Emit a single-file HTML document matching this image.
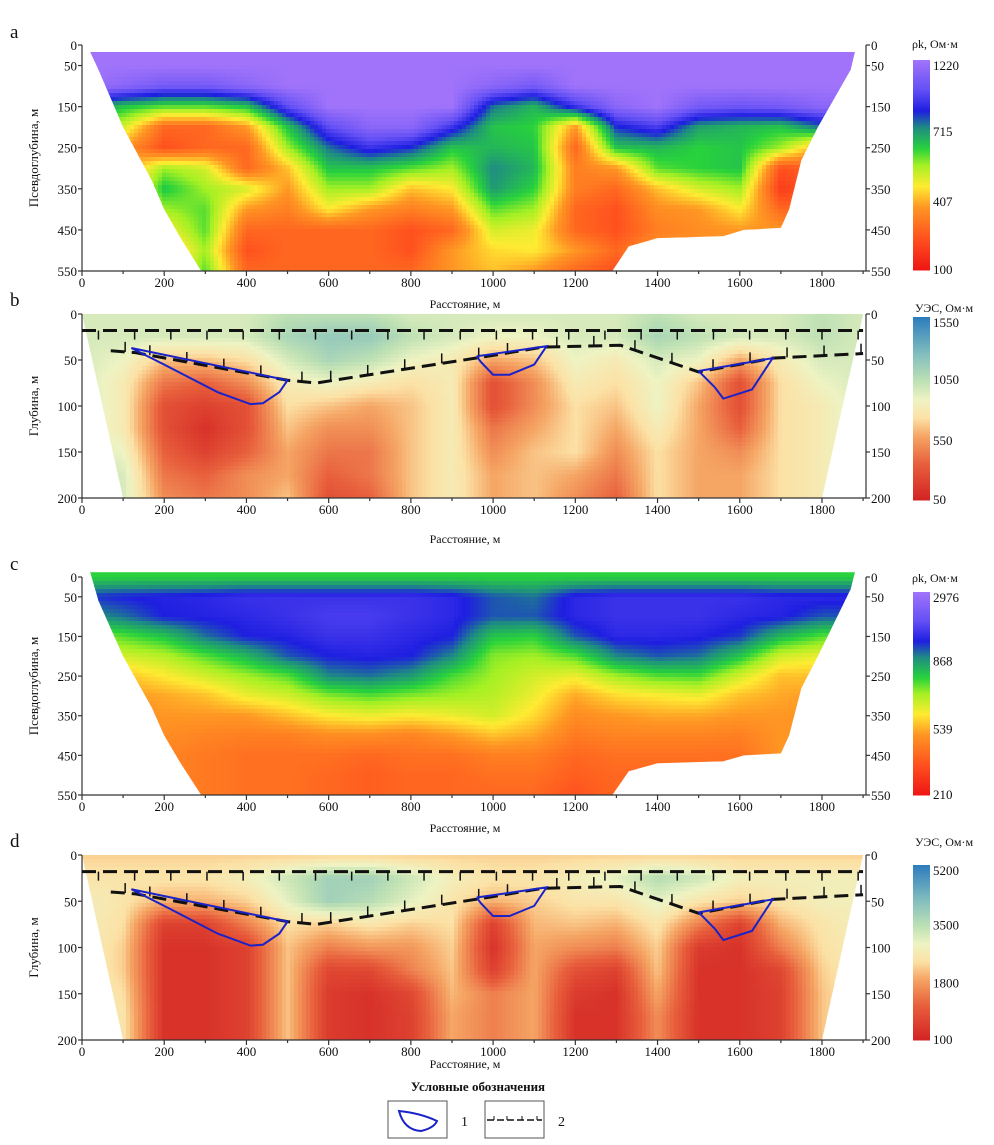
<!DOCTYPE html>
<html><head><meta charset="utf-8">
<style>
html,body{margin:0;padding:0;background:#fff;}
svg{display:block;font-family:"Liberation Serif",serif;}
</style></head>
<body>
<svg id="fig" width="994" height="1145" viewBox="0 0 994 1145" xmlns="http://www.w3.org/2000/svg"></svg>
<script>
// ---- data ----
const distCols = [0,100,200,300,400,500,600,700,800,900,1000,1100,1200,1300,1400,1500,1600,1700,1800,1900];
const depthRowsA = [50,100,150,200,250,300,350,400,450,500,550];
const depthRowsC = [0,50,100,150,200,250,300,350,400,450,500,550];
const depthRowsB = [0,25,50,75,100,125,150,175,200];
const gridA = [
[1,1,.7,.5,.3,.3,.3,.3,.3,.3,.3],[1,.95,.6,.45,.3,.3,.3,.3,.3,.3,.3],
[1,.9,.55,.2,.15,.5,.6,.5,.4,.3,.3],[1,.9,.55,.2,.2,.45,.5,.55,.55,.5,.55],
[1,.95,.6,.3,.2,.2,.45,.3,.2,.15,.2],[1,1,.85,.6,.5,.35,.3,.25,.2,.2,.2],
[1,1,1,.85,.7,.6,.5,.4,.2,.2,.2],[1,1,1,.95,.8,.6,.5,.3,.2,.2,.2],
[1,1,1,.95,.75,.55,.35,.25,.15,.15,.2],[1,1,1,.8,.6,.5,.4,.3,.2,.3,.3],
[1,.95,.7,.6,.62,.68,.66,.55,.45,.38,.35],[1,.9,.62,.58,.6,.62,.58,.5,.42,.4,.3],
[1,1,.8,.3,.2,.25,.25,.2,.2,.3,.2],[1,1,.95,.75,.6,.3,.2,.15,.15,.2,.15],
[1,1,1,.82,.62,.55,.35,.28,.25,.3,.3],[1,1,.9,.65,.58,.58,.45,.3,.28,.3,.3],
[1,1,.88,.62,.6,.6,.5,.4,.3,.3,.3],[1,1,.9,.6,.5,.15,.1,.2,.3,.3,.3],
[1,1,.95,.7,.3,.2,.2,.2,.3,.3,.3],[1,1,.95,.7,.3,.2,.2,.2,.3,.3,.3]];
const gridC = [
[.58,.74,.66,.5,.4,.3,.3,.3,.3,.3,.3,.3],
[.58,.76,.7,.55,.45,.35,.3,.28,.28,.28,.28,.28],
[.58,.77,.76,.6,.48,.4,.32,.3,.28,.26,.26,.26],
[.58,.78,.77,.7,.55,.45,.35,.3,.26,.24,.24,.24],
[.58,.8,.78,.76,.62,.5,.42,.3,.25,.22,.22,.22],
[.58,.8,.8,.77,.72,.55,.45,.35,.25,.22,.22,.22],
[.58,.8,.82,.8,.76,.68,.52,.4,.28,.22,.2,.2],
[.58,.8,.82,.8,.77,.7,.55,.42,.28,.2,.18,.18],
[.58,.8,.8,.78,.76,.66,.52,.4,.26,.22,.2,.2],
[.58,.78,.78,.76,.68,.56,.5,.42,.3,.22,.2,.2],
[.58,.72,.72,.6,.52,.5,.48,.45,.35,.25,.22,.2],
[.58,.7,.72,.58,.5,.45,.42,.38,.32,.25,.22,.2],
[.58,.78,.78,.72,.55,.42,.32,.28,.24,.2,.18,.15],
[.58,.8,.8,.78,.68,.5,.38,.3,.26,.22,.2,.2],
[.58,.8,.8,.78,.72,.55,.4,.32,.26,.22,.2,.2],
[.58,.8,.8,.77,.7,.56,.42,.32,.26,.22,.2,.2],
[.58,.8,.78,.74,.6,.45,.35,.3,.25,.22,.2,.2],
[.58,.78,.77,.62,.45,.35,.32,.3,.3,.3,.3,.3],
[.58,.78,.72,.55,.42,.35,.3,.3,.3,.3,.3,.3],
[.58,.78,.72,.55,.42,.35,.3,.3,.3,.3,.3,.3]];
const gridB = [
[.6,.6,.6,.6,.6,.6,.6,.6,.6],[.6,.6,.55,.5,.5,.5,.55,.6,.6],
[.6,.6,.4,.25,.15,.15,.2,.25,.3],[.6,.6,.4,.2,.1,.05,.1,.2,.25],
[.6,.6,.45,.3,.15,.15,.2,.3,.3],[.65,.7,.6,.5,.45,.4,.35,.35,.4],
[.65,.75,.7,.55,.4,.3,.25,.2,.15],[.65,.75,.65,.5,.35,.3,.25,.25,.2],
[.6,.65,.55,.45,.4,.4,.4,.4,.4],[.6,.6,.5,.5,.5,.5,.5,.5,.5],
[.6,.55,.35,.15,.15,.25,.3,.35,.35],[.6,.55,.4,.3,.3,.35,.4,.4,.4],
[.6,.6,.55,.5,.45,.45,.45,.35,.3],[.6,.6,.5,.45,.4,.35,.3,.25,.2],
[.65,.7,.6,.55,.55,.5,.45,.45,.45],[.6,.65,.55,.4,.35,.35,.35,.35,.35],
[.6,.6,.35,.15,.15,.2,.3,.35,.35],[.6,.6,.5,.45,.45,.45,.45,.45,.45],
[.65,.65,.6,.55,.5,.5,.5,.5,.5],[.6,.6,.6,.6,.6,.6,.6,.6,.6]];
const gridD = [
[.42,.47,.52,.52,.52,.52,.52,.52,.52],[.42,.47,.47,.45,.42,.42,.45,.47,.47],
[.42,.47,.37,.1,.05,.05,.05,.05,.05],[.42,.47,.37,.1,.05,.05,.05,.05,.05],
[.42,.52,.42,.27,.1,.1,.1,.1,.1],[.42,.62,.57,.45,.4,.4,.4,.4,.4],
[.42,.72,.72,.42,.27,.12,.08,.08,.08],[.42,.72,.67,.47,.32,.12,.05,.05,.05],
[.42,.62,.57,.42,.32,.27,.12,.1,.1],[.42,.52,.47,.45,.42,.4,.38,.35,.35],
[.42,.47,.37,.1,.05,.1,.27,.27,.27],[.42,.47,.42,.38,.35,.35,.35,.35,.35],
[.42,.52,.47,.4,.3,.15,.08,.05,.05],[.42,.57,.47,.37,.27,.1,.05,.05,.05],
[.42,.67,.57,.47,.42,.4,.35,.3,.3],[.42,.62,.47,.27,.08,.05,.05,.05,.05],
[.42,.52,.42,.1,.05,.05,.05,.05,.05],[.42,.52,.47,.37,.27,.12,.1,.1,.1],
[.42,.52,.52,.47,.45,.42,.4,.4,.4],[.42,.52,.52,.52,.52,.52,.52,.52,.52]];
const xTicks = [0,200,400,600,800,1000,1200,1400,1600,1800];
const yTicksA = [0,50,150,250,350,450,550];
const yTicksB = [0,50,100,150,200];
const cbarA = ["1220","715","407","100"];
const cbarB = ["1550","1050","550","50"];
const cbarC = ["2976","868","539","210"];
const cbarD = ["5200","3500","1800","100"];
const faultTopDepth = 18;
const faultLineX = [70,130,500,570,1000,1120,1310,1500,1680,1900];
const faultLineD = [40,42,72,75,45,36,34,63,48,43];
const body1 = [[120,37],[500,72],[480,85],[440,97],[410,98],[330,85],[200,55],[120,37]];
const body2 = [[960,46],[1130,35],[1100,55],[1040,66],[1000,66],[970,52],[960,46]];
const body3 = [[1500,62],[1680,48],[1630,82],[1560,92],[1540,80],[1500,62]];
// ---- scales & colours ----
const rainbow = [[0,[238,20,20]],[.15,[255,80,30]],[.3,[255,150,35]],[.4,[255,235,50]],[.5,[165,240,35]],[.58,[40,210,60]],[.68,[30,140,130]],[.76,[30,30,225]],[.86,[100,80,245]],[1,[160,115,250]]];
const spectral = [[0,[210,35,35]],[.2,[232,95,60]],[.35,[245,165,100]],[.45,[252,225,165]],[.55,[238,243,195]],[.65,[190,225,180]],[.8,[130,190,190]],[1,[45,125,190]]];
function cmap(st,t){t=Math.max(0,Math.min(1,t));for(let i=1;i<st.length;i++){if(t<=st[i][0]){const a=st[i-1],b=st[i];const f=(t-a[0])/(b[0]-a[0]);return 'rgb('+a[1].map((v,k)=>Math.round(v+(b[1][k]-v)*f)).join(',')+')';}}const l=st[st.length-1][1];return 'rgb('+l.join(',')+')';}
const NS='http://www.w3.org/2000/svg';
const svg=document.getElementById('fig');
function el(tag,attrs,parent){const e=document.createElementNS(NS,tag);for(const k in attrs)e.setAttribute(k,attrs[k]);(parent||svg).appendChild(e);return e;}
function txt(s,x,y,attrs,parent){const t=el('text',Object.assign({x:x,y:y,'font-size':13,fill:'#111'},attrs||{}),parent);t.textContent=s;return t;}
const X=m=>82+m*0.4111;
function interp(grid,rows,m,d){
  let ci=Math.floor(m/100);ci=Math.max(0,Math.min(distCols.length-2,ci));let fx=(m-distCols[ci])/100;fx=Math.max(0,Math.min(1,fx));
  let ri=0;while(ri<rows.length-2&&d>rows[ri+1])ri++;let fy=(d-rows[ri])/(rows[ri+1]-rows[ri]);fy=Math.max(0,Math.min(1,fy));
  const a=grid[ci][ri],b=grid[ci+1][ri],c=grid[ci][ri+1],e=grid[ci+1][ri+1];
  return a*(1-fx)*(1-fy)+b*fx*(1-fy)+c*(1-fx)*fy+e*fx*fy;}
let clipN=0;
function panel(o){
  const g=el('g',{});
  
  
  const Y=d=>o.y0+d*(o.y1-o.y0)/o.dmax;
  const id='clip'+(clipN++);
  const cp=el('clipPath',{id:id},g);
  el('polygon',{points:o.clip.map(p=>X(p[0])+','+Y(p[1])).join(' ')},cp);
  const hm=el('g',{'clip-path':'url(#'+id+')'},g);
  
  
  const step=4;
  for(let py=o.y0-8;py<o.y1;py+=step){for(let px=82;px<867;px+=step){
    const m=(px+step/2-82)/0.4111, d=(py+step/2-o.y0)*o.dmax/(o.y1-o.y0);
    el('rect',{x:px,y:py,width:step+0.5,height:step+0.5,fill:cmap(o.cmap,interp(o.grid,o.rows,m,d))},hm);
  }}
  const ax=el('g',{stroke:'#333','stroke-width':1.2,fill:'none'},g);
  el('line',{x1:82,y1:o.y0,x2:82,y2:o.y1},ax);
  el('line',{x1:866,y1:o.y0,x2:866,y2:o.y1},ax);
  el('line',{x1:82,y1:o.y1,x2:866,y2:o.y1},ax);
  for(let m=0;m<=1900;m+=100){el('line',{x1:X(m),y1:o.y1,x2:X(m),y2:o.y1+(m%200==0?5:3)},ax);}
  xTicks.forEach(v=>txt(String(v),X(v),o.y1+16,{'text-anchor':'middle'},g));
  o.yt.forEach(v=>{el('line',{x1:78,y1:Y(v),x2:82,y2:Y(v)},ax);el('line',{x1:866,y1:Y(v),x2:870,y2:Y(v)},ax);
    txt(String(v),77,Y(v)+5,{'text-anchor':'end'},g);txt(String(v),871,Y(v)+5,{},g);});
  const xt=txt('Расстояние, м',465,o.xTitleY,{'text-anchor':'middle','font-size':12},g);
  
  
  const yt=txt(o.ytitle,0,0,{'text-anchor':'middle','font-size':13,transform:'translate(38,'+((o.y0+o.y1)/2)+') rotate(-90)'},g);
  
  
  const lb=txt(o.letter,10,o.letterY,{'font-size':19},g);
  
  
  const cb=el('g',{},g);
  
  
  const ch=o.cb1-o.cb0;
  for(let i=0;i<ch;i++){el('rect',{x:913,y:o.cb0+i,width:17,height:1.5,fill:cmap(o.cmap,1-i/ch)},cb);}
  o.cbl.forEach((s,i)=>txt(s,933,o.cb0+i*ch/(o.cbl.length-1)+(i==0?10:i==o.cbl.length-1?4:6),{},cb));
  txt(o.cbTitle,o.cbTitleX,o.cbTitleY,{'font-size':12},cb);
  return {g:g,Y:Y};
}
function faults(p){
  const g=el('g',{},p.g);
  
  
  const Y=p.Y;
  el('line',{x1:X(0),y1:Y(faultTopDepth),x2:X(1900),y2:Y(faultTopDepth),stroke:'#111','stroke-width':3,'stroke-dasharray':'14,7'},g);
  for(let m=40;m<1900;m+=88){el('line',{x1:X(m),y1:Y(faultTopDepth),x2:X(m),y2:Y(faultTopDepth)+9,stroke:'#111','stroke-width':1.5},g);}
  const pts=faultLineX.map((m,i)=>X(m)+','+Y(faultLineD[i])).join(' ');
  el('polyline',{points:pts,fill:'none',stroke:'#111','stroke-width':3,'stroke-dasharray':'14,7'},g);
  for(let i=0;i<faultLineX.length-1;i++){const a=faultLineX[i],b=faultLineX[i+1];
    for(let m=a+35;m<b;m+=90){const d=faultLineD[i]+(faultLineD[i+1]-faultLineD[i])*(m-a)/(b-a);
      el('line',{x1:X(m),y1:Y(d),x2:X(m),y2:Y(d)-10,stroke:'#111','stroke-width':1.5},g);}}
  [body1,body2,body3].forEach((b,k)=>{const pl=el('polyline',{points:b.map(q=>X(q[0])+','+Y(q[1])).join(' '),fill:'none',stroke:'#1a22c8','stroke-width':2},g);
    
    });
}
const clipA=[[20,17],[1880,17],[1870,60],[1790,200],[1750,280],[1720,400],[1700,445],[1610,450],[1560,465],[1400,470],[1330,490],[1290,550],[290,550],[240,470],[200,400],[170,330],[100,200],[40,60]];
const clipC=[[20,-12],[1880,-12],[1870,30],[1790,200],[1750,280],[1720,400],[1700,445],[1610,450],[1560,465],[1400,470],[1330,490],[1290,550],[290,550],[240,470],[200,400],[170,330],[100,200],[40,60]];
const clipB=[[0,0],[1900,0],[1800,200],[100,200]];
panel({name:'panel-a',letter:'a',letterY:38,y0:45,y1:271,dmax:550,grid:gridA,rows:depthRowsA,clip:clipA,cmap:rainbow,yt:yTicksA,ytitle:'Псевдоглубина, м',xTitleY:308,cb0:60,cb1:270,cbl:cbarA,cbTitle:'ρk, Ом·м',cbTitleX:912,cbTitleY:48});
const pb=panel({name:'panel-b',letter:'b',letterY:306,y0:314,y1:498,dmax:200,grid:gridB,rows:depthRowsB,clip:clipB,cmap:spectral,yt:yTicksB,ytitle:'Глубина, м',xTitleY:543,cb0:317,cb1:500,cbl:cbarB,cbTitle:'УЭС, Ом·м',cbTitleX:915,cbTitleY:312});
faults(pb);
panel({name:'panel-c',letter:'c',letterY:570,y0:577,y1:795,dmax:550,grid:gridC,rows:depthRowsC,clip:clipC,cmap:rainbow,yt:yTicksA,ytitle:'Псевдоглубина, м',xTitleY:832,cb0:592,cb1:795,cbl:cbarC,cbTitle:'ρk, Ом·м',cbTitleX:912,cbTitleY:582});
const pd=panel({name:'panel-d',letter:'d',letterY:847,y0:855,y1:1040,dmax:200,grid:gridD,rows:depthRowsB,clip:clipB,cmap:spectral,yt:yTicksB,ytitle:'Глубина, м',xTitleY:1068,cb0:865,cb1:1040,cbl:cbarD,cbTitle:'УЭС, Ом·м',cbTitleX:915,cbTitleY:846});
faults(pd);
// legend
const lg=el('g',{});


txt('Условные обозначения',478,1091,{'text-anchor':'middle','font-weight':'bold','font-size':13},lg);
el('rect',{x:388,y:1101,width:59,height:37,fill:'#fff',stroke:'#555','stroke-width':1},lg);
el('path',{d:'M399,1111 Q404,1130 421,1131 Q434,1128 437,1121 Q420,1113 399,1111 Z',fill:'none',stroke:'#1a22c8','stroke-width':2},lg);
txt('1',461,1126,{'font-size':14},lg);
el('rect',{x:485,y:1101,width:59,height:37,fill:'#fff',stroke:'#555','stroke-width':1},lg);
el('line',{x1:487,y1:1120,x2:542,y2:1120,stroke:'#111','stroke-width':1.5,'stroke-dasharray':'7,3'},lg);
[494,507,522,537].forEach(x=>el('line',{x1:x,y1:1120,x2:x,y2:1116,stroke:'#111','stroke-width':1},lg));
txt('2',558,1126,{'font-size':14},lg);
</script>
</body></html>
